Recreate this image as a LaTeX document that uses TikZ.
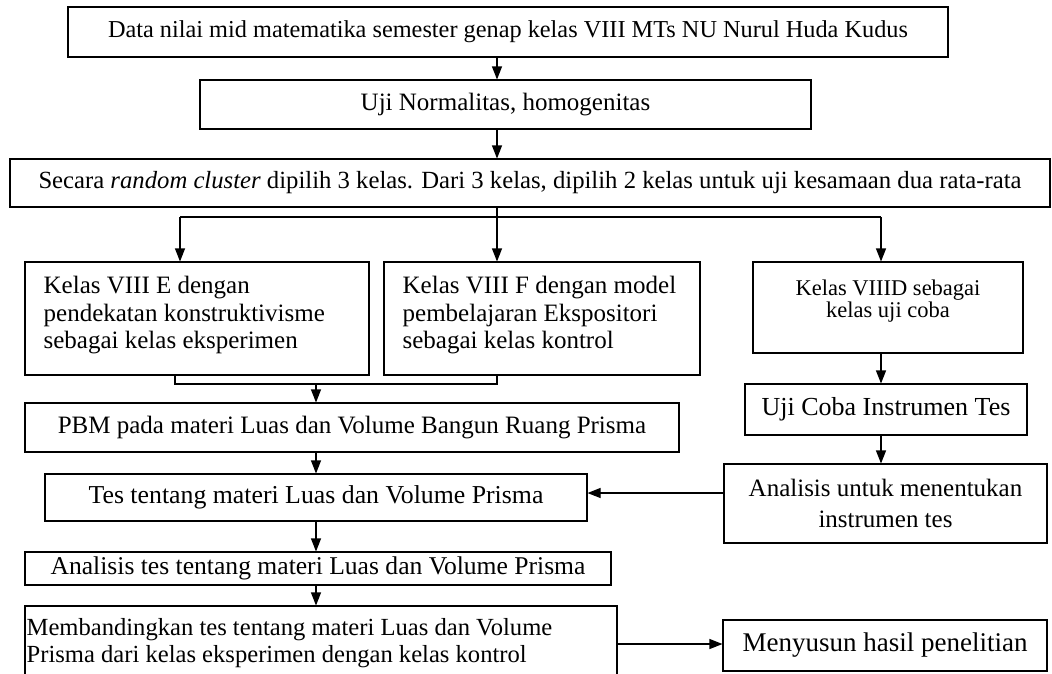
\documentclass[tikz,border=0pt]{standalone}
\usepackage{fontspec}
\setmainfont{Liberation Serif}
\usetikzlibrary{arrows.meta,calc}
\begin{document}
\begin{tikzpicture}[x=1pt,y=-1pt,
  box/.style={draw,line width=1.1pt,inner sep=0pt,align=center,font=\fontsize{25}{27.5}\selectfont},
  frame/.style={draw,line width=1.1pt,inner sep=0pt},
  txt/.style={inner sep=0pt,align=left,anchor=west,font=\fontsize{25}{27.5}\selectfont},
  arr/.style={line width=1.1pt,-{Triangle[length=13pt,width=10pt]}},
  ln/.style={line width=1.1pt}]
\useasboundingbox (0,0) rectangle (1052,673);
\node[box,minimum width=880pt,minimum height=50pt,font=\fontsize{24.3}{27}\selectfont] (b1) at (508,32) {Data nilai mid matematika semester genap kelas VIII MTs NU Nurul Huda Kudus};
\node[box,minimum width=611pt,minimum height=49pt] (b2) at (505.5,104.5) {Uji Normalitas, homogenitas};
\node[box,minimum width=1040pt,minimum height=48pt,font=\fontsize{24.7}{27}\selectfont] (b3) at (530,183) {Secara \textit{random cluster} dipilih 3 kelas. Dari 3 kelas, dipilih 2 kelas untuk uji kesamaan dua rata-rata};
% E, F, D boxes with their texts
\node[frame,minimum width=344pt,minimum height=113pt] (e) at (197,318.5) {};
\node[txt] (et) at ($(e.west)+(19,-3)$) {Kelas VIII E dengan\\pendekatan konstruktivisme\\sebagai kelas eksperimen};
\node[frame,minimum width=316pt,minimum height=113pt] (f) at (542,318.5) {};
\node[txt] (ft) at ($(f.west)+(19,-3)$) {Kelas VIII F dengan model\\pembelajaran Ekspositori\\sebagai kelas kontrol};
\node[frame,minimum width=270pt,minimum height=91pt] (d) at (888,307.5) {};
\node[inner sep=0pt,align=center,font=\fontsize{22.5}{22}\selectfont] (dt) at (888,301) {Kelas VIIID sebagai\\kelas uji coba};
\node[box,minimum width=282pt,minimum height=51pt,font=\fontsize{26}{28}\selectfont] (u) at (886,409.5) {Uji Coba Instrumen Tes};
\node[box,minimum width=323pt,minimum height=79pt,font=\fontsize{25}{31}\selectfont] (an) at (885.5,503.5) {Analisis untuk menentukan\\instrumen tes};
\node[box,minimum width=654pt,minimum height=49pt] (pbm) at (352,427.5) {PBM pada materi Luas dan Volume Bangun Ruang Prisma};
\node[box,minimum width=542pt,minimum height=47pt,font=\fontsize{25.8}{28}\selectfont] (tes) at (316,497.5) {Tes tentang materi Luas dan Volume Prisma};
\node[box,minimum width=586pt,minimum height=33pt,font=\fontsize{25.6}{28}\selectfont] (at) at (318,568.5) {Analisis tes tentang materi Luas dan Volume Prisma};
\node[frame,minimum width=592pt,minimum height=74pt] (m) at (321,643) {};
\node[txt,font=\fontsize{24.6}{27.5}\selectfont] (mt) at ($(m.west)+(2,0)$) {Membandingkan tes tentang materi Luas dan Volume\\Prisma dari kelas eksperimen dengan kelas kontrol};
\node[box,minimum width=324pt,minimum height=51pt,font=\fontsize{27}{29}\selectfont] (men) at (885,645.5) {Menyusun hasil penelitian};
% helper coordinates
\coordinate (x1) at (497,0);
\coordinate (x2) at (316,0);
\coordinate (x3) at (881,0);
\coordinate (split) at (497,217);
\coordinate (sl) at (180,217);
\coordinate (sr) at (881,217);
\coordinate (bl) at (175,384);
\coordinate (br) at (497,384);
\coordinate (bm) at (316,384);
\coordinate (y1) at (0,493);
\coordinate (y2) at (0,644);
% connectors
\draw[arr] (b1.south -| x1) -- (b2.north -| x1);
\draw[arr] (b2.south -| x1) -- (b3.north -| x1);
\draw[ln] (b3.south -| x1) -- (split);
\draw[ln] (sl) -- (sr);
\draw[arr] (sl) -- (e.north -| sl);
\draw[arr] (split) -- (f.north -| split);
\draw[arr] (sr) -- (d.north -| sr);
\draw[ln] (e.south -| bl) -- (bl) -- (br) -- (f.south -| br);
\draw[arr] (bm) -- (pbm.north -| bm);
\draw[arr] (pbm.south -| x2) -- (tes.north -| x2);
\draw[arr] (tes.south -| x2) -- (at.north -| x2);
\draw[arr] (at.south -| x2) -- (m.north -| x2);
\draw[arr] (d.south -| x3) -- (u.north -| x3);
\draw[arr] (u.south -| x3) -- (an.north -| x3);
\draw[arr] (an.west |- y1) -- (tes.east |- y1);
\draw[arr] (m.east |- y2) -- (men.west |- y2);
\end{tikzpicture}
\end{document}
